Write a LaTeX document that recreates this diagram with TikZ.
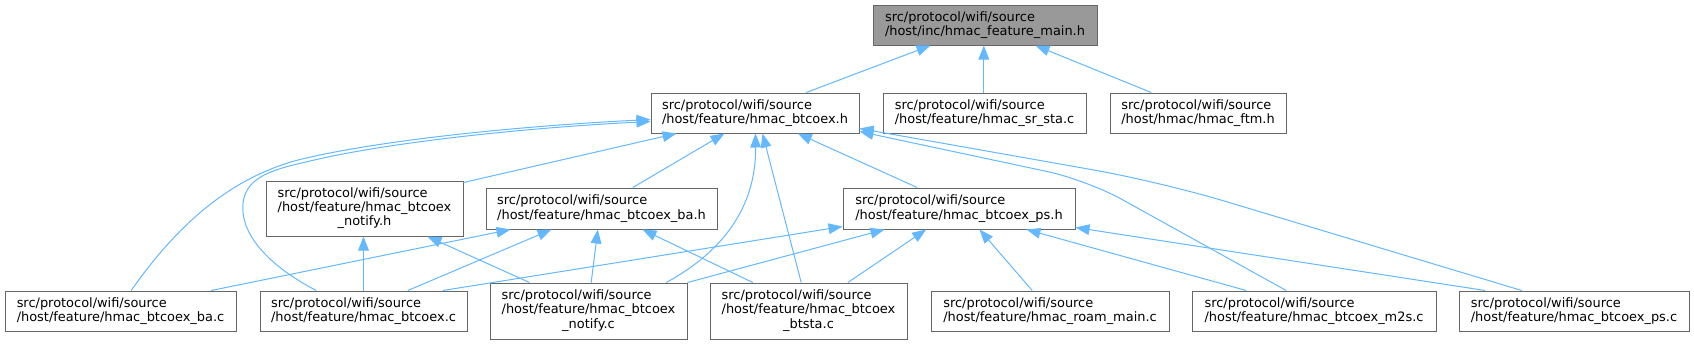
\documentclass[tikz,border=0pt]{standalone}
\usepackage{fontspec}
\setmainfont{DejaVu Sans}
\usetikzlibrary{arrows.meta,calc}
\definecolor{edgec}{HTML}{63B8FF}
\definecolor{bord}{HTML}{666666}
\definecolor{rootf}{HTML}{999999}
\begin{document}
\begin{tikzpicture}[x=0.75pt,y=-0.75pt,
  box/.style={draw=bord, line width=0.75pt, fill=white, inner sep=0pt, align=left,
    font=\fontsize{9.7pt}{10.7pt}\selectfont},
  sz/.style 2 args={minimum width=#1*0.75pt, minimum height=#2*0.75pt},
  edge/.style={draw=edgec, line width=0.75pt, -{Triangle[length=10.5pt,width=8pt]}}]
\useasboundingbox (0,0) rectangle (1694,344);

% nodes
\node[box, fill=rootf, sz={224}{40}] (root) at (985,25) {src/protocol/wifi/source\\/host/inc/hmac\_feature\_main.h};
\node[box, sz={208}{40}] (bth) at (755,113) {src/protocol/wifi/source\\/host/feature/hmac\_btcoex.h};
\node[box, sz={203}{40}] (srsta) at (984.5,113) {src/protocol/wifi/source\\/host/feature/hmac\_sr\_sta.c};
\node[box, sz={176}{40}] (ftm) at (1198,113) {src/protocol/wifi/source\\/host/hmac/hmac\_ftm.h};
\node[box, sz={197}{55}] (nth) at (364.5,208.5) {\begin{tabular}{@{}l@{}}src/protocol/wifi/source\\/host/feature/hmac\_btcoex\\\multicolumn{1}{@{}c@{}}{\_notify.h}\end{tabular}};
\node[box, sz={231}{41}] (bah) at (601.5,208.5) {src/protocol/wifi/source\\/host/feature/hmac\_btcoex\_ba.h};
\node[box, sz={232}{41}] (psh) at (959,208.5) {src/protocol/wifi/source\\/host/feature/hmac\_btcoex\_ps.h};
\node[box, sz={231}{40}] (bac) at (120.5,311) {src/protocol/wifi/source\\/host/feature/hmac\_btcoex\_ba.c};
\node[box, sz={207}{40}] (btc) at (363.5,311) {src/protocol/wifi/source\\/host/feature/hmac\_btcoex.c};
\node[box, sz={197}{56}] (ntc) at (588.5,311) {\begin{tabular}{@{}l@{}}src/protocol/wifi/source\\/host/feature/hmac\_btcoex\\\multicolumn{1}{@{}c@{}}{\_notify.c}\end{tabular}};
\node[box, sz={197}{56}] (bts) at (808.5,311) {\begin{tabular}{@{}l@{}}src/protocol/wifi/source\\/host/feature/hmac\_btcoex\\\multicolumn{1}{@{}c@{}}{\_btsta.c}\end{tabular}};
\node[box, sz={238}{40}] (roam) at (1050,311) {src/protocol/wifi/source\\/host/feature/hmac\_roam\_main.c};
\node[box, sz={244}{40}] (m2s) at (1314,311) {src/protocol/wifi/source\\/host/feature/hmac\_btcoex\_m2s.c};
\node[box, sz={230}{40}] (psc) at (1574,311) {src/protocol/wifi/source\\/host/feature/hmac\_btcoex\_ps.c};

% edges to root
\draw[edge] ($(bth.north west)+(155.7,0)$) -- ($(root.south west)+(58,0)$);
\draw[edge] ($(srsta.north west)+(101.3,0)$) -- ($(root.south west)+(111.3,0)$);
\draw[edge] ($(ftm.north west)+(41.7,0)$) -- ($(root.south west)+(163,0)$);

% edges to btcoex.h
\draw[edge] ($(nth.north east)+(0,2)$) -- ($(bth.south west)+(26,0)$);
\draw[edge] ($(bah.north west)+(147.3,0)$) -- ($(bth.south west)+(74,0)$);
\draw[edge] ($(psh.north west)+(74.7,0)$) -- ($(bth.south west)+(147.3,0)$);
\draw[edge] ($(bac.north west)+(126.7,0)$) .. controls (175,228) and (228,178) .. (300,159.5)
   .. controls (380,140) and (520,126) .. ($(bth.north west)+(0,27)$);
\draw[edge] ($(btc.north west)+(56.7,0)$) .. controls (262,262) and (240,230) .. (243,203)
   .. controls (246,176) and (275,169) .. (310,161)
   .. controls (385,143) and (520,128) .. ($(bth.north west)+(0,29)$);
\draw[edge] ($(ntc.north west)+(176.7,0)$) .. controls (735,245) and (756,195) .. ($(bth.south west)+(105,0)$);
\draw[edge] ($(bts.north west)+(91.7,0)$) -- ($(bth.south west)+(112,0)$);
\draw[edge, rounded corners=30pt] ($(m2s.north west)+(94.7,0)$) -- (1087,180) -- ($(bth.south east)+(0,-2)$);
\draw[edge, rounded corners=50pt] ($(psc.north west)+(63.3,0)$) -- (1160,181.7) -- ($(bth.south east)+(0,-5)$);

% edges to ba.h
\draw[edge] ($(bac.north west)+(206.7,0)$) -- ($(bah.south west)+(25,0)$);
\draw[edge] ($(btc.north west)+(148.3,0)$) -- ($(bah.south west)+(66,0)$);
\draw[edge] ($(ntc.north west)+(101.7,0)$) -- ($(bah.south west)+(112.3,0)$);
\draw[edge] ($(bts.north west)+(43.3,0)$) -- ($(bah.south west)+(157,0)$);

% edges to notify.h
\draw[edge] ($(btc.north west)+(104,0)$) -- ($(nth.south west)+(98,0)$);
\draw[edge] ($(ntc.north west)+(40,0)$) -- ($(nth.south west)+(162,0)$);

% edges to ps.h
\draw[edge] ($(btc.north west)+(183.3,0)$) -- ($(psh.south west)+(0,-3)$);
\draw[edge] (ntc.north east) -- ($(psh.south west)+(42,0)$);
\draw[edge] ($(bts.north west)+(138.3,0)$) -- ($(psh.south west)+(83.7,0)$);
\draw[edge] ($(roam.north west)+(101.7,0)$) -- ($(psh.south west)+(137,0)$);
\draw[edge] ($(m2s.north west)+(54.7,0)$) -- ($(psh.south west)+(184,0)$);
\draw[edge] ($(psc.north west)+(26.7,0)$) -- ($(psh.south east)+(0,-2)$);
\end{tikzpicture}
\end{document}
